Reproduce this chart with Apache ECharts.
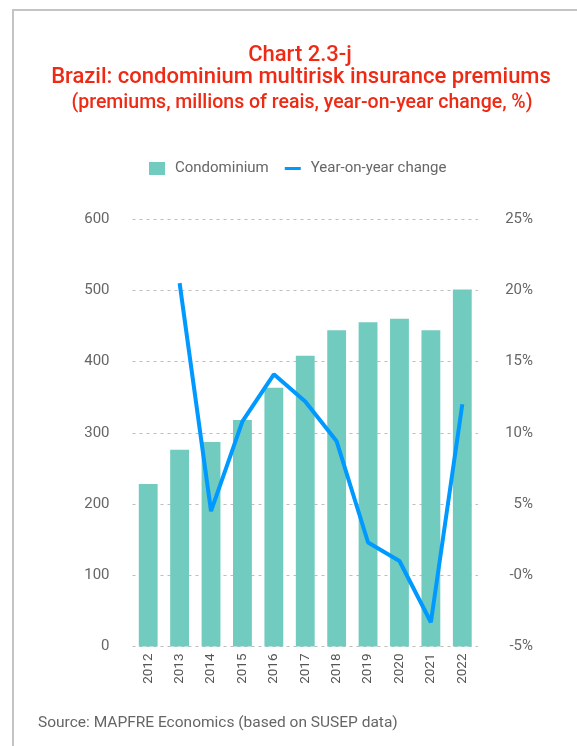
<!DOCTYPE html>
<html>
<head>
<meta charset="utf-8">
<script src="https://cdn.jsdelivr.net/npm/echarts@6/dist/echarts.min.js"></script>
<style>
html,body{margin:0;padding:0;background:#fff;}
#chart{width:577px;height:746px;}
</style>
</head>
<body>
<div id="chart"></div>
<script>
const years = ['2012','2013','2014','2015','2016','2017','2018','2019','2020','2021','2022'];
const premiums = [228, 276, 287, 318, 363, 408, 444, 455, 460, 444, 501];
const yoyChange = [null, 20.5, 4.5, 10.8, 14.1, 12.2, 9.4, 2.3, 1.0, -3.3, 12.0];
const leftTicks = ['0','100','200','300','400','500','600'];
const rightTicks = ['-5%','-0%','5%','10%','15%','20%','25%'];
const titleLines = ['Chart 2.3-j', 'Brazil: condominium multirisk insurance premiums', '(premiums, millions of reais, year-on-year change, %)'];
const sourceText = 'Source: MAPFRE Economics (based on SUSEP data)';

const FONT = 'Roboto';
const chart = echarts.init(document.getElementById('chart'), null, {renderer:'canvas'});
chart.setOption({
  animation: false,
  backgroundColor: '#fff',
  textStyle: {fontFamily: FONT},
  graphic: [
    {type:'rect', silent:true, shape:{x:13, y:10, width:620, height:800},
     style:{fill:'none', stroke:'#c4c4c4', lineWidth:2}},
    {type:'text', x:300, y:55, style:{text:titleLines[0], fill:'#ef2a14', font:'500 22px ' + FONT, textAlign:'center', textVerticalAlign:'middle'}},
    {type:'text', x:301, y:77.5, style:{text:titleLines[1], fill:'#ef2a14', font:'500 22px ' + FONT, textAlign:'center', textVerticalAlign:'middle'}},
    {type:'text', x:302, y:103.5, style:{text:titleLines[2], fill:'#ef2a14', font:'500 19.5px ' + FONT, textAlign:'center', textVerticalAlign:'middle'}},
    {type:'text', x:38, y:723, style:{text:sourceText, fill:'#666', font:'15.5px ' + FONT, textAlign:'left', textVerticalAlign:'middle'}}
  ],
  legend: {
    left: 144, top: 156,
    itemWidth: 16, itemHeight: 13, itemGap: 16,
    textStyle: {color:'#666', fontSize:15, fontFamily: FONT, padding:[0,0,0,5]},
    data: [
      {name:'Condominium', icon:'rect'},
      {name:'Year-on-year change', icon:'path://M0,0H16V3H0Z'}
    ]
  },
  grid: {left:132.5, right:99, top:219, bottom:99.5},
  xAxis: {
    type:'category', data: years,
    axisLine:{show:false}, axisTick:{show:false},
    axisLabel:{rotate:90, color:'#555', fontSize:13.5, margin:7, fontFamily: FONT}
  },
  yAxis: [
    {type:'value', min:0, max:600, interval:100,
     axisLine:{show:false}, axisTick:{show:false},
     axisLabel:{color:'#666', fontSize:15, margin:23, fontFamily: FONT,
       formatter:(v)=>leftTicks[Math.round(v/100)]},
     splitLine:{show:true, lineStyle:{color:'#bdbdbd', type:[3,4], width:1}}},
    {type:'value', min:-5, max:25, interval:5, position:'right',
     axisLine:{show:false}, axisTick:{show:false},
     axisLabel:{color:'#666', fontSize:15, margin:55, align:'right', fontFamily: FONT,
       formatter:(v)=>rightTicks[Math.round((v+5)/5)]},
     splitLine:{show:false}}
  ],
  series: [
    {name:'Condominium', type:'bar', data: premiums, yAxisIndex:0,
     barWidth:'60%', itemStyle:{color:'#72cbbf'}},
    {name:'Year-on-year change', type:'line', data: yoyChange, yAxisIndex:1,
     showSymbol:false, symbol:'none', connectNulls:false,
     lineStyle:{color:'#0099ff', width:4}, itemStyle:{color:'#0099ff'}}
  ]
});
</script>
</body>
</html>
